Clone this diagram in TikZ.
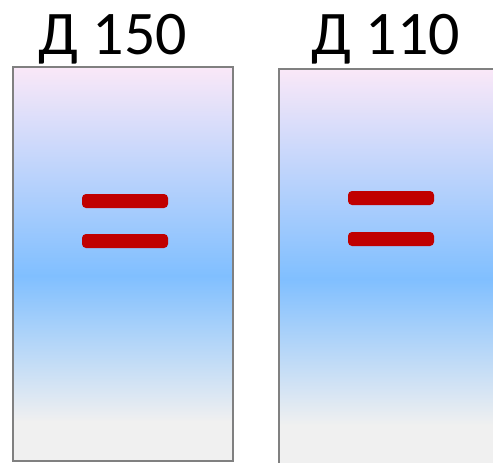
\documentclass[tikz,border=0pt]{standalone}
\usepackage{fontspec}
\setmainfont{Carlito}
\usepackage{tikz}
\usetikzlibrary{positioning}

\definecolor{gelpink}{RGB}{250,232,248}
\definecolor{gelblue}{RGB}{128,191,255}
\definecolor{gelgray}{RGB}{240,240,240}
\definecolor{bandred}{RGB}{192,0,0}
\definecolor{laneedge}{RGB}{128,128,128}
\pgfdeclareverticalshading{gel}{100bp}{color(0bp)=(gelgray); color(30bp)=(gelgray); color(48.5bp)=(gelblue); color(75bp)=(gelpink); color(100bp)=(gelpink)}

\begin{document}
\begin{tikzpicture}[x=1pt,y=-1pt,every node/.style={font=\fontsize{62}{62}\selectfont}]
\useasboundingbox (0,0) rectangle (493,463);
\clip (0,0) rectangle (493,463);
% lanes
\shade[shading=gel] (13,67) rectangle (233,461);
\draw[laneedge,line width=2.5pt] (13,67) rectangle (233,461);
\shade[shading=gel] (279,69) rectangle (510,465);
\draw[laneedge,line width=2.5pt] (510,69) -- (279,69) -- (279,470);
% labels
\node[anchor=base] (lbl150) at (113,54) {Д 150};
\node[anchor=base] (lbl110) at (386,54) {Д 110};
% bands
\fill[bandred,rounded corners=4pt] (82,194) rectangle (168,208);
\fill[bandred,rounded corners=4pt] (82,234) rectangle (168,248);
\fill[bandred,rounded corners=4pt] (348,191) rectangle (434,205);
\fill[bandred,rounded corners=4pt] (348,232) rectangle (434,246);
\end{tikzpicture}
\end{document}
